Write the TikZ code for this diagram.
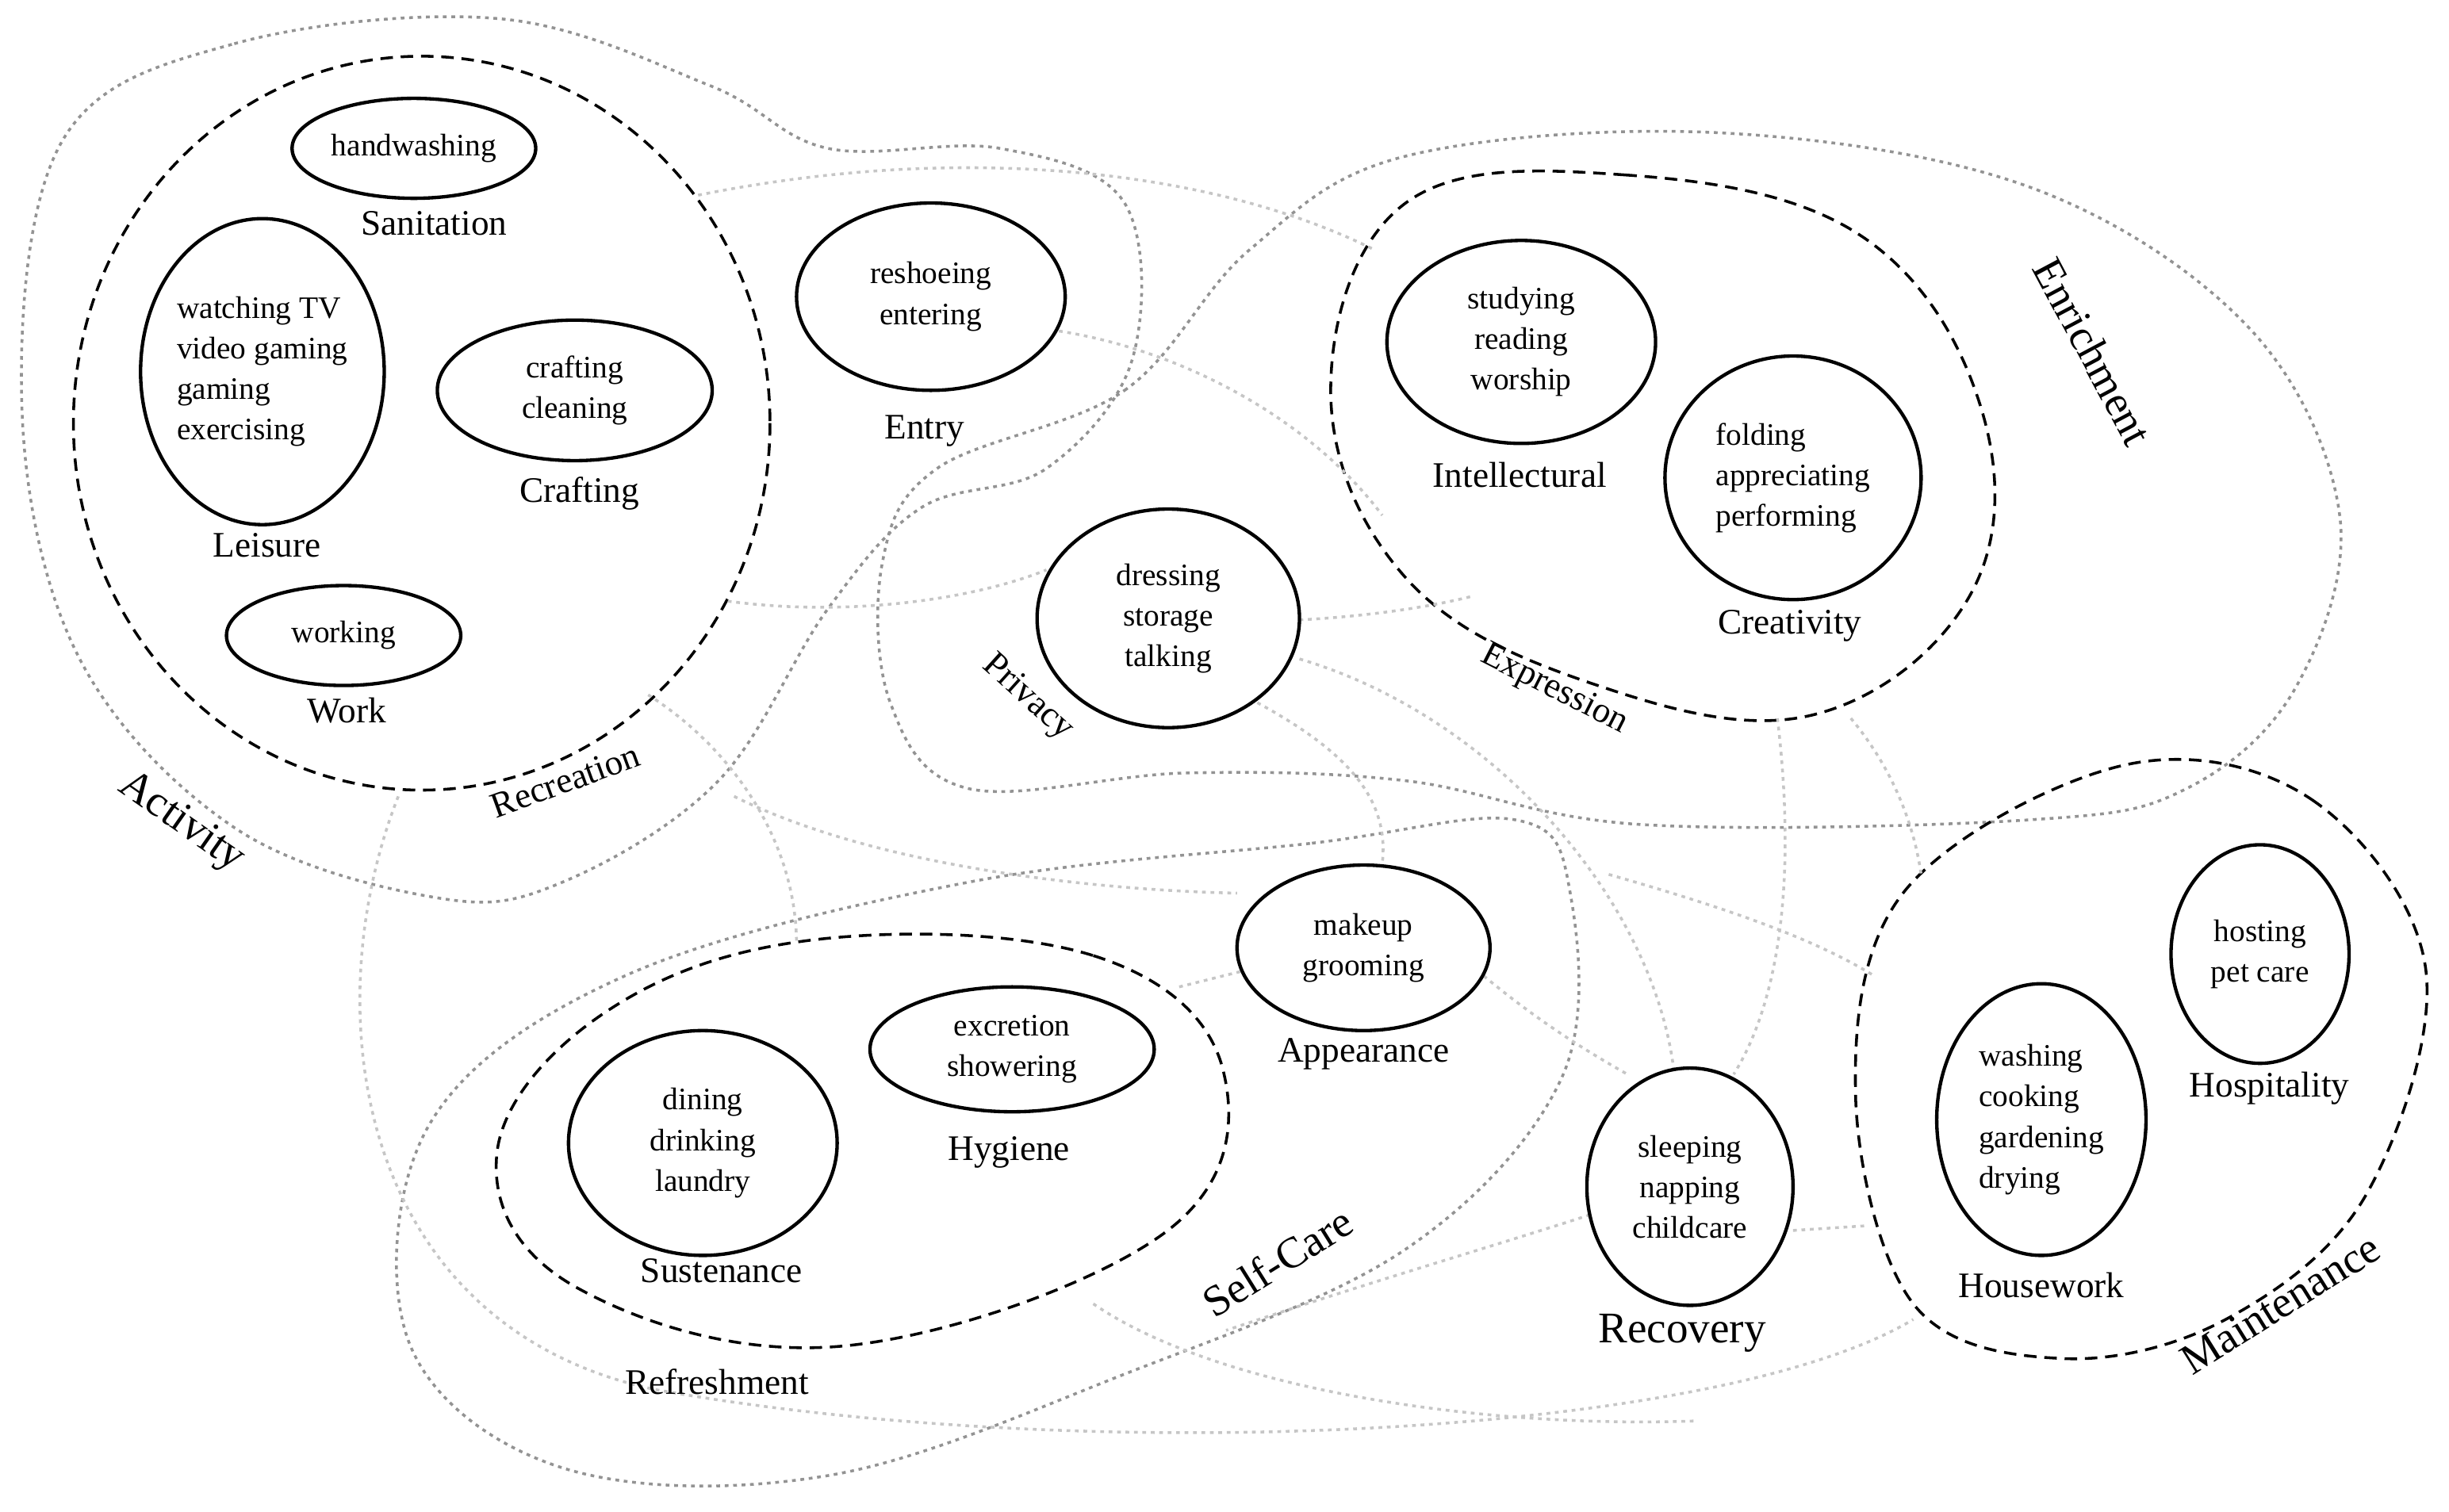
\documentclass[tikz,border=0pt]{standalone}
\usepackage{fontspec}
\setmainfont{Liberation Serif}
\usetikzlibrary{shapes.geometric}
\begin{document}
\begin{tikzpicture}[x=0.5pt,y=-0.5pt,
  act/.style={draw,ellipse,line width=1.1pt,inner sep=0pt,align=center,font=\fontsize{10}{13}\selectfont},
  lab/.style={font=\fontsize{11.5}{13}\selectfont},
  grp/.style={font=\fontsize{11.5}{13}\selectfont},
  big/.style={font=\fontsize{14}{16}\selectfont},
  inner/.style={draw,line width=0.9pt,dash pattern=on 4pt off 2.5pt},
  outer/.style={draw=gray!85,line width=0.9pt,dash pattern=on 1.2pt off 1.5pt},
  link/.style={draw=gray!45,line width=0.9pt,dash pattern=on 1.2pt off 1.5pt}]
\useasboundingbox (0,0) rectangle (1568,968);
% outer dotted groups
\draw[outer] plot[smooth cycle,tension=0.6] coordinates {(40,90)(150,28)(320,12)(455,55)(530,95)(640,95)(720,130)(725,230)(670,300)(590,325)(530,390)(460,500)(360,565)(280,575)(150,530)(50,420)(14,260)};
\draw[outer] plot[smooth cycle,tension=0.6] coordinates {(600,300)(720,250)(800,160)(900,100)(1100,85)(1300,120)(1440,210)(1498,330)(1470,440)(1400,505)(1300,525)(1050,528)(900,500)(760,495)(620,505)(570,450)(565,360)};
\draw[outer] plot[smooth cycle,tension=0.6] coordinates {(620,565)(840,540)(970,525)(1005,570)(1000,690)(900,800)(720,880)(530,945)(360,940)(262,860)(275,720)(400,625)};
% inner dashed groups
\draw[inner] (270,271) ellipse [x radius=223,y radius=235];
\draw[inner] plot[smooth cycle,tension=0.65] coordinates {(900,130)(1040,112)(1190,150)(1268,260)(1262,380)(1160,458)(1020,438)(900,370)(852,250)};
\draw[inner] plot[smooth cycle,tension=0.65] coordinates {(520,602)(700,612)(783,685)(745,790)(540,862)(370,825)(318,740)(385,650)};
\draw[inner] plot[smooth cycle,tension=0.6] coordinates {(1360,490)(1480,512)(1553,620)(1515,765)(1425,845)(1320,870)(1225,835)(1188,700)(1220,570)};
% links
\draw[link] (447,125) .. controls (620,90) and (780,110) .. (880,160);
\draw[link] (678,212) .. controls (760,225) and (840,270) .. (885,330);
\draw[link] (466,385) .. controls (540,395) and (620,385) .. (670,365);
\draw[link] (832,397) .. controls (870,395) and (910,390) .. (942,382);
\draw[link] (415,445) .. controls (470,480) and (510,540) .. (510,605);
\draw[link] (470,510) .. controls (560,555) and (700,570) .. (792,572);
\draw[link] (805,450) .. controls (860,480) and (890,510) .. (885,553);
\draw[link] (832,422) .. controls (960,460) and (1060,580) .. (1072,688);
\draw[link] (1138,460) .. controls (1150,560) and (1140,640) .. (1110,688);
\draw[link] (1185,460) .. controls (1210,490) and (1225,525) .. (1230,560);
\draw[link] (1030,560) .. controls (1100,580) and (1160,600) .. (1200,625);
\draw[link] (950,625) .. controls (980,650) and (1010,670) .. (1042,688);
\draw[link] (755,632) -- (795,622);
\draw[link] (1148,788) -- (1195,785);
\draw[link] (255,510) .. controls (200,650) and (230,850) .. (420,890) .. controls (700,940) and (1100,920) .. (1225,845);
\draw[link] (1018,778) .. controls (950,800) and (880,820) .. (785,852);
\draw[link] (700,835) .. controls (780,890) and (950,915) .. (1085,910);
% activity ellipses
\node[act,minimum width=156pt*0.5,minimum height=64pt*0.5] (hw) at (265,95) {handwashing};
\node[act,align=left,minimum width=156pt*0.5,minimum height=196pt*0.5] (tv) at (168,238) {watching TV\\video gaming\\gaming\\exercising};
\node[act,minimum width=176pt*0.5,minimum height=90pt*0.5] (cr) at (368,250) {crafting\\cleaning};
\node[act,minimum width=150pt*0.5,minimum height=64pt*0.5] (wk) at (220,407) {working};
\node[act,minimum width=172pt*0.5,minimum height=120pt*0.5] (en) at (596,190) {reshoeing\\entering};
\node[act,minimum width=172pt*0.5,minimum height=130pt*0.5] (st) at (974,219) {studying\\reading\\worship};
\node[act,align=left,minimum width=164pt*0.5,minimum height=156pt*0.5] (fo) at (1148,306) {folding\\appreciating\\performing};
\node[act,minimum width=168pt*0.5,minimum height=140pt*0.5] (dr) at (748,396) {dressing\\storage\\talking};
\node[act,minimum width=162pt*0.5,minimum height=106pt*0.5] (mk) at (873,607) {makeup\\grooming};
\node[act,minimum width=182pt*0.5,minimum height=80pt*0.5] (ex) at (648,672) {excretion\\showering};
\node[act,minimum width=172pt*0.5,minimum height=144pt*0.5] (di) at (450,732) {dining\\drinking\\laundry};
\node[act,minimum width=132pt*0.5,minimum height=152pt*0.5] (sl) at (1082,760) {sleeping\\napping\\childcare};
\node[act,align=left,minimum width=134pt*0.5,minimum height=174pt*0.5] (wa) at (1307,717) {washing\\cooking\\gardening\\drying};
\node[act,minimum width=114pt*0.5,minimum height=140pt*0.5] (ho) at (1447,611) {hosting\\pet care};
% labels
\node[lab] (l1) at (278,143) {Sanitation};
\node[lab] (l2) at (171,349) {Leisure};
\node[lab] (l3) at (371,316) {Crafting};
\node[lab] (l4) at (222,455) {Work};
\node[lab] (l5) at (592,276) {Entry};
\node[lab] (l6) at (973,304) {Intellectural};
\node[lab] (l7) at (1146,401) {Creativity};
\node[lab] (l8) at (873,675) {Appearance};
\node[lab] (l9) at (646,738) {Hygiene};
\node[lab] (l10) at (462,814) {Sustenance};
\node[big] (l11) at (1077,854) {Recovery};
\node[lab] (l12) at (1307,823) {Housework};
\node[lab] (l13) at (1453,697) {Hospitality};
% group labels
\node[grp,rotate=20] (g1) at (362,500) {Recreation};
\node[grp] (g2) at (459,885) {Refreshment};
\node[grp,rotate=-42] (g3) at (658,447) {Privacy};
\node[grp,rotate=-27] (g4) at (995,442) {Expression};
\node[big,rotate=32] (g5) at (818,808) {Self-Care};
\node[big,rotate=-35] (g6) at (116,527) {Activity};
\node[big,rotate=-62] (g7) at (1340,225) {Enrichment};
\node[big,rotate=32] (g8) at (1460,835) {Maintenance};
\end{tikzpicture}
\end{document}
